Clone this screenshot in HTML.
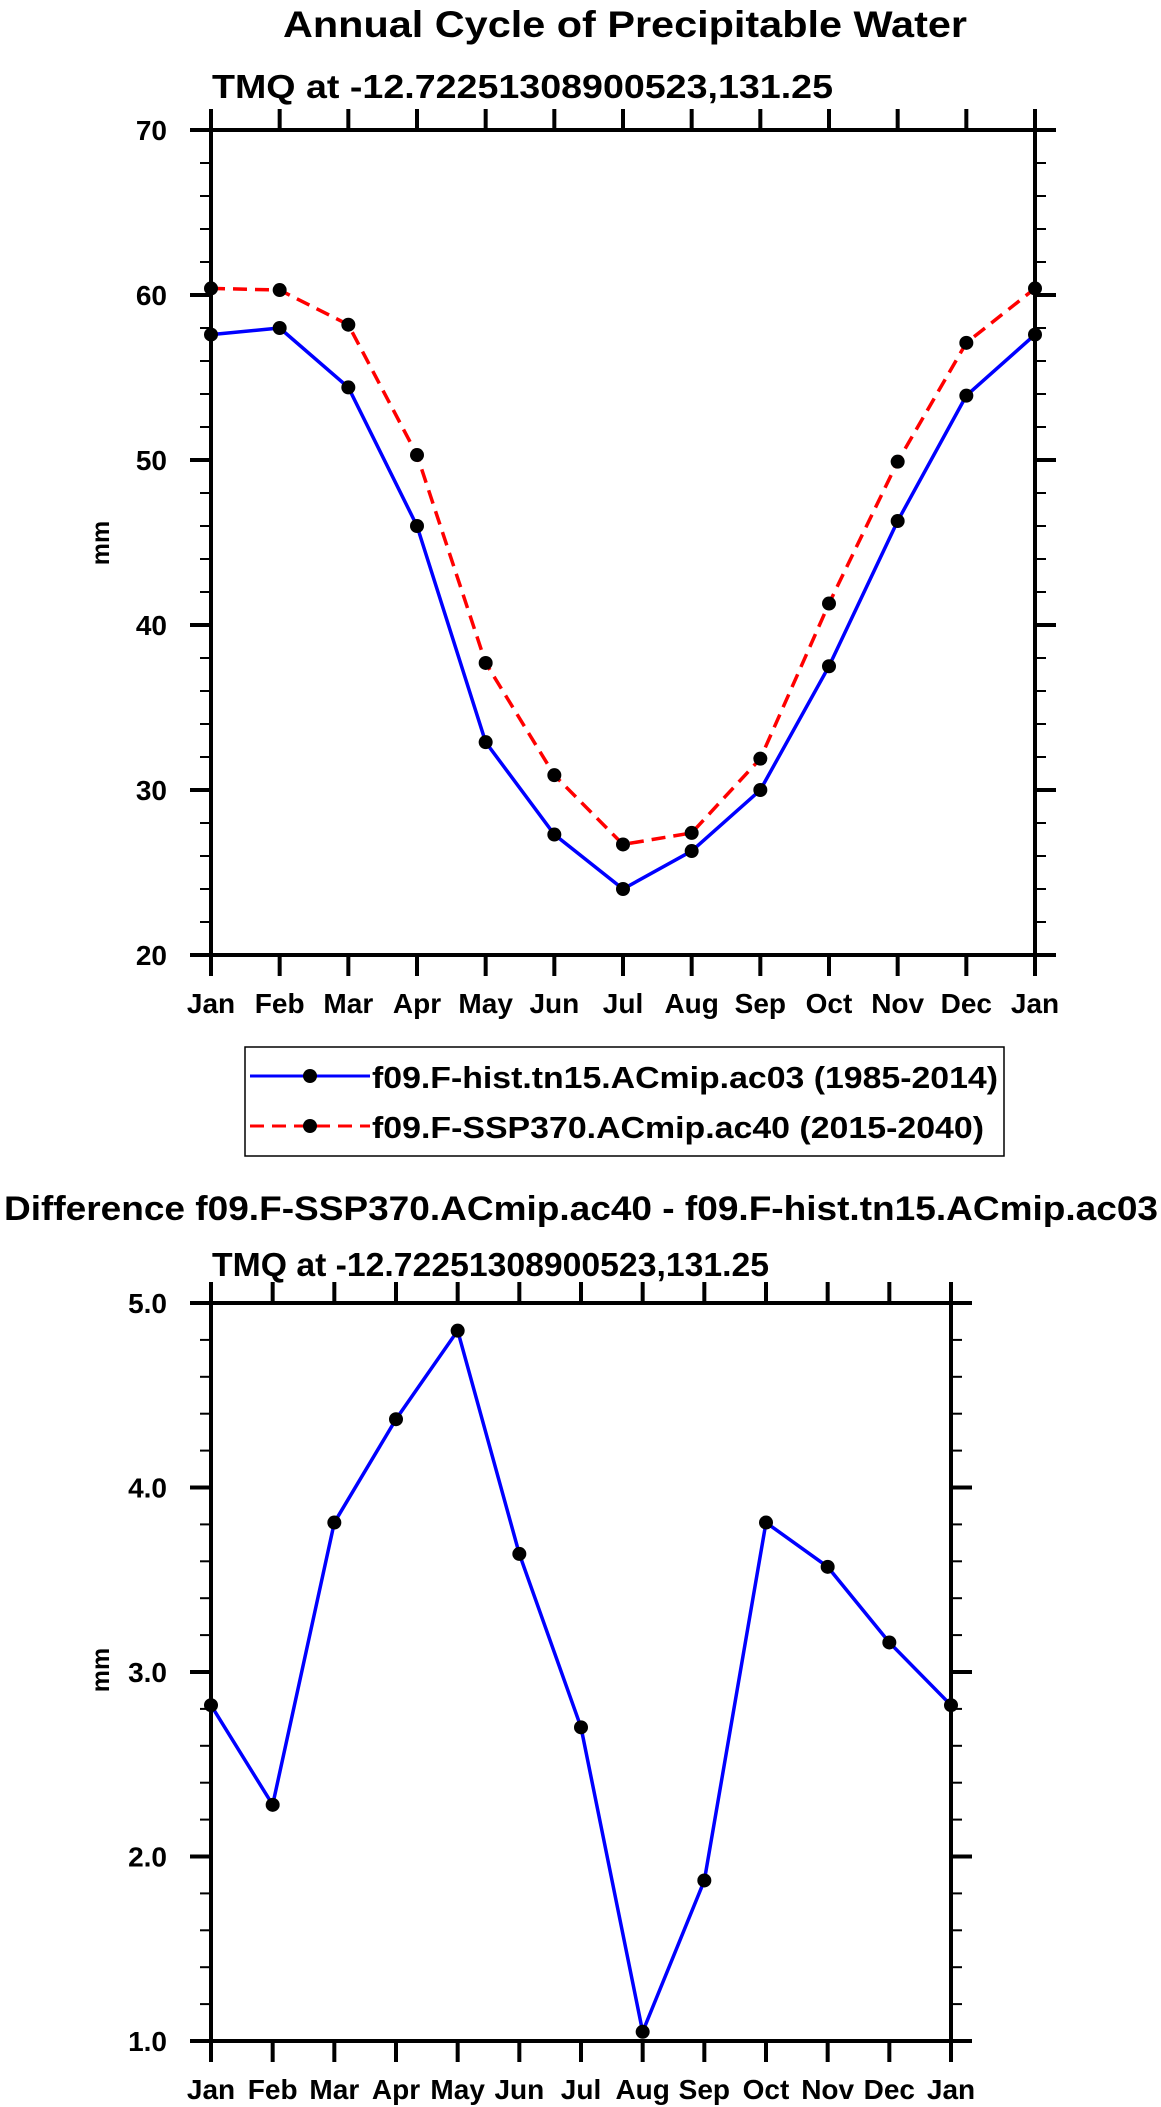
<!DOCTYPE html>
<html><head><meta charset="utf-8"><style>
html,body{margin:0;padding:0;background:#fff}
svg{display:block;font-family:"Liberation Sans",Arial,sans-serif;font-weight:bold}
</style></head><body>
<svg id="svg" width="1161" height="2107" viewBox="0 0 1161 2107" xmlns="http://www.w3.org/2000/svg">
<text x="625" y="37" font-size="37" text-anchor="middle" textLength="684" lengthAdjust="spacingAndGlyphs">Annual Cycle of Precipitable Water</text>
<text x="212" y="98" font-size="33" textLength="621" lengthAdjust="spacingAndGlyphs">TMQ at -12.72251308900523,131.25</text>
<g id="top"></g>
<g>
<rect x="245" y="1047" width="759" height="109" fill="none" stroke="#000" stroke-width="1.5"/>
<line x1="250" y1="1076" x2="370" y2="1076" stroke="#0000ff" stroke-width="3"/>
<circle cx="310" cy="1076" r="7" fill="#000"/>
<text x="372" y="1088" font-size="31" textLength="626" lengthAdjust="spacingAndGlyphs">f09.F-hist.tn15.ACmip.ac03 (1985-2014)</text>
<line x1="250" y1="1126" x2="370" y2="1126" stroke="#ff0000" stroke-width="3" stroke-dasharray="14,8"/>
<circle cx="310" cy="1126" r="7" fill="#000"/>
<text x="372" y="1138" font-size="31" textLength="612" lengthAdjust="spacingAndGlyphs">f09.F-SSP370.ACmip.ac40 (2015-2040)</text>
</g>
<text x="4" y="1220" font-size="34" textLength="1154" lengthAdjust="spacingAndGlyphs">Difference f09.F-SSP370.ACmip.ac40 - f09.F-hist.tn15.ACmip.ac03</text>
<text x="212" y="1276" font-size="33" textLength="557" lengthAdjust="spacingAndGlyphs">TMQ at -12.72251308900523,131.25</text>
<g id="bot"></g>
</svg>
<script>
const months = ["Jan","Feb","Mar","Apr","May","Jun","Jul","Aug","Sep","Oct","Nov","Dec","Jan"];
const histValues = [57.6,58.0,54.4,46.0,32.9,27.3,24.0,26.3,30.0,37.5,46.3,53.9,57.6];
const sspValues = [60.4,60.3,58.2,50.3,37.7,30.9,26.7,27.4,31.9,41.3,49.9,57.1,60.4];
const diffValues = [2.82,2.28,3.81,4.37,4.85,3.64,2.70,1.05,1.87,3.81,3.57,3.16,2.82];
const topTicks = ["20","30","40","50","60","70"];
const botTicks = ["1.0","2.0","3.0","4.0","5.0"];
const NS="http://www.w3.org/2000/svg";
function mk(p,tag,a){const e=document.createElementNS(NS,tag);for(const k in a)e.setAttribute(k,a[k]);p.appendChild(e);return e;}
function plot(g,o){
  const xs=i=>o.x0+(o.x1-o.x0)*i/12;
  const ys=v=>o.y0+(o.y1-o.y0)*(v-o.vmin)/(o.vmax-o.vmin);
  months.forEach((m,i)=>{
    const x=xs(i);
    const t=mk(g,'line',{x1:x,x2:x,y1:o.y1-21,y2:o.y1,stroke:'#000','stroke-width':4});
    
    
    const b=mk(g,'line',{x1:x,x2:x,y1:o.y0,y2:o.y0+21,stroke:'#000','stroke-width':4});
    
    
    const l=mk(g,'text',{x:x,y:o.y0+58,'font-size':28,'text-anchor':'middle'});
    l.textContent=m;
    
    
  });
  const labels=o.ticks;
  const step=(o.vmax-o.vmin)/(labels.length-1);
  for(let k=0;k<labels.length;k++){
    const v=o.vmin+k*step,y=ys(v);
    const a=mk(g,'line',{x1:o.x0-21,x2:o.x0,y1:y,y2:y,stroke:'#000','stroke-width':4});
    
    
    const r=mk(g,'line',{x1:o.x1,x2:o.x1+21,y1:y,y2:y,stroke:'#000','stroke-width':4});
    
    
    const t=mk(g,'text',{x:o.x0-44,y:y+10,'font-size':28,'text-anchor':'end'});
    t.textContent=labels[k];
    
    
    if(k<labels.length-1){for(let j=1;j<5;j++){
      const yy=ys(v+step*j/5);
      const m1=mk(g,'line',{x1:o.x0-11,x2:o.x0,y1:yy,y2:yy,stroke:'#000','stroke-width':2});
      
      
      const m2=mk(g,'line',{x1:o.x1,x2:o.x1+11,y1:yy,y2:yy,stroke:'#000','stroke-width':2});
      
      
    }}
  }
  const fr=mk(g,'rect',{x:o.x0,y:o.y1,width:o.x1-o.x0,height:o.y0-o.y1,fill:'none',stroke:'#000','stroke-width':4});
  
  
  const yt=mk(g,'text',{x:0,y:0,'font-size':25,'text-anchor':'middle',transform:`translate(${o.yt[0]},${o.yt[1]}) rotate(-90)`});
  yt.textContent='mm';
  
  
  o.series.forEach(s=>{
    const pl=mk(g,'polyline',{points:s.v.map((v,i)=>xs(i)+','+ys(v)).join(' '),fill:'none',stroke:s.c,'stroke-width':3.5,'stroke-dasharray':s.d||'none'});
    
    
    s.v.forEach((v,i)=>{
      const c=mk(g,'circle',{cx:xs(i),cy:ys(v),r:7,fill:'#000'});
      
      
    });
  });
}
const gt=document.getElementById('top');


plot(gt,{x0:211,x1:1035,y0:955,y1:130,vmin:20,vmax:70,ticks:topTicks,yt:[109,543],
  series:[{v:histValues,c:'#0000ff',n:'hist'},{v:sspValues,c:'#ff0000',d:'14,8',n:'ssp'}]});
const gb=document.getElementById('bot');


plot(gb,{x0:211,x1:951,y0:2041,y1:1303,vmin:1,vmax:5,ticks:botTicks,yt:[109,1670],
  series:[{v:diffValues,c:'#0000ff',n:'diff'}]});
</script>
</body></html>
